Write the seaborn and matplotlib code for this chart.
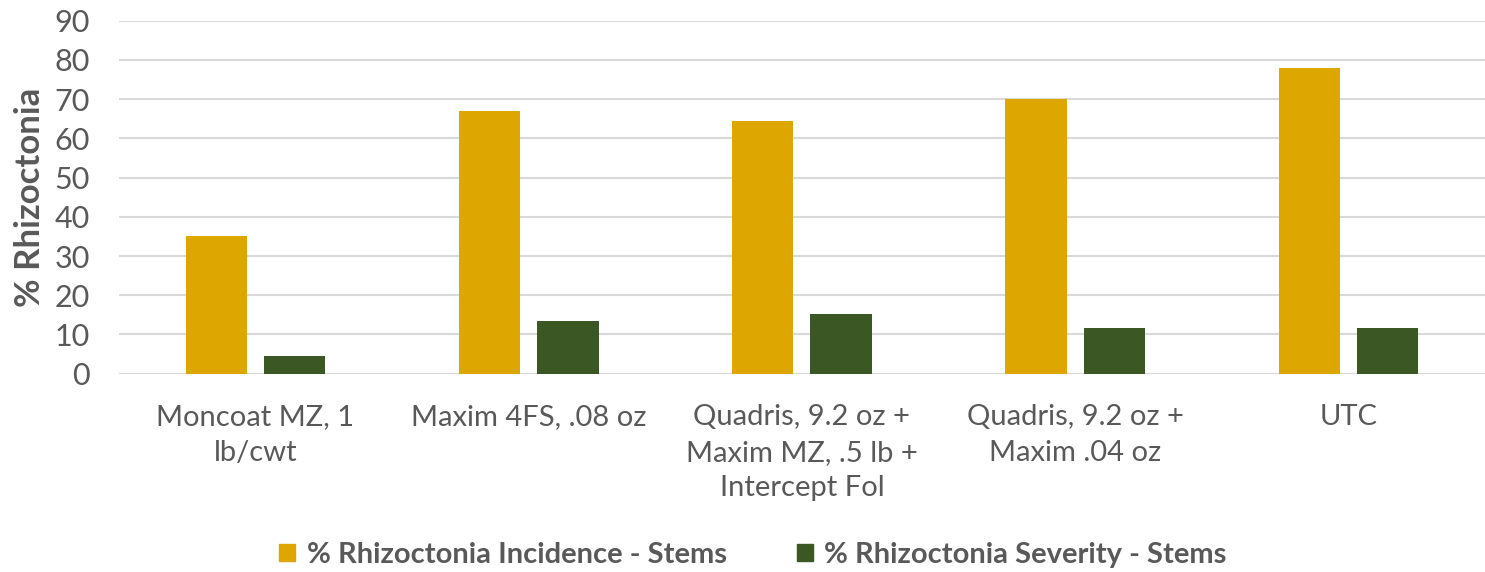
import matplotlib
matplotlib.use("Agg")
import matplotlib.pyplot as plt
import seaborn as sns
import pandas as pd
from matplotlib.patches import Patch

categories = ["Moncoat MZ, 1\nlb/cwt", "Maxim 4FS, .08 oz",
              "Quadris, 9.2 oz +\nMaxim MZ, .5 lb +\nIntercept Fol",
              "Quadris, 9.2 oz +\nMaxim .04 oz", "UTC"]
series_names = ["% Rhizoctonia Incidence - Stems", "% Rhizoctonia Severity - Stems"]
incidence = [35.0, 67.0, 64.5, 70.1, 77.9]
severity = [4.4, 13.5, 15.2, 11.7, 11.7]
y_ticks = [0, 10, 20, 30, 40, 50, 60, 70, 80, 90]
colors = ["#DDA600", "#3A5724"]

df = pd.DataFrame({
    "cat": categories * 2,
    "series": [series_names[0]] * 5 + [series_names[1]] * 5,
    "val": incidence + severity,
})

sns.set_theme(style="white")
plt.rcParams["font.family"] = ["Lato", "DejaVu Sans"]
txt = "#595959"

fig = plt.figure(figsize=(14.85, 5.72), dpi=100)
ax = fig.add_axes([0.0801, 0.3467, 0.9199, 0.6171])
sns.barplot(data=df, x="cat", y="val", hue="series", palette=colors,
            width=0.573, gap=0.217, ax=ax, legend=False, saturation=1,
            linewidth=0)

ax.set_ylim(0, 90)
ax.set_xlim(-0.5, 4.5)
ax.set_yticks(y_ticks)
ax.yaxis.grid(True, color="#D9D9D9", linewidth=1.5)
ax.set_axisbelow(True)
for s in ax.spines.values():
    s.set_visible(False)
ax.tick_params(axis="y", length=0, pad=21, labelsize=22, labelcolor=txt)
ax.tick_params(axis="x", length=0, pad=22, labelsize=21, labelcolor=txt)
for lab in ax.get_xticklabels():
    lab.set_linespacing(1.45)
ax.set_xlabel("")
ax.set_ylabel("% Rhizoctonia", fontsize=25, fontweight="bold", color=txt, labelpad=6)

handles = [Patch(color=c, label=n) for c, n in zip(colors, series_names)]
fig.legend(handles=handles, loc="center", bbox_to_anchor=(0.507, 0.03), ncol=2,
           frameon=False, prop={"weight": "bold", "size": 21},
           handlelength=0.55, handleheight=0.55, handletextpad=0.4, columnspacing=2.4)
for t in fig.legends[0].get_texts():
    t.set_color(txt)

fig.savefig("out.png", dpi=100)
